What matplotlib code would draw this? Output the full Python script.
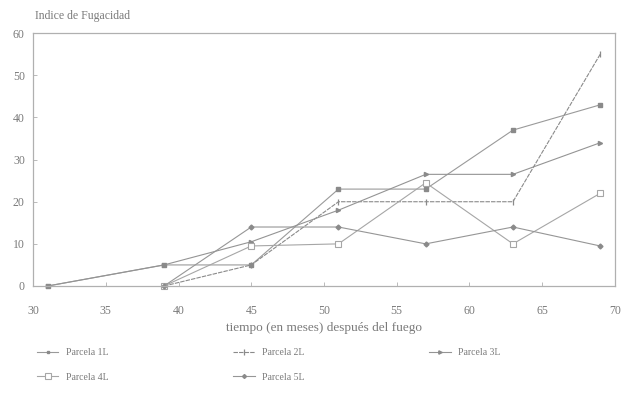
import matplotlib
matplotlib.use("Agg")
import matplotlib.pyplot as plt

# Months after the fire at which each plot was sampled
meses_1L = [31, 39, 45, 51, 57, 63, 69]
indice_1L = [0, 5, 5, 23, 23, 37, 43]

meses_2L = [39, 45, 51, 57, 63, 69]
indice_2L = [0, 5, 20, 20, 20, 55]

meses_3L = [31, 39, 45, 51, 57, 63, 69]
indice_3L = [0, 5, 10.5, 18, 26.5, 26.5, 34]

meses_4L = [39, 45, 51, 57, 63, 69]
indice_4L = [0, 9.5, 10, 24.5, 10, 22]

meses_5L = [39, 45, 51, 57, 63, 69]
indice_5L = [0, 14, 14, 10, 14, 9.5]

x_ticks = [30, 35, 40, 45, 50, 55, 60, 65, 70]
y_ticks = [0, 10, 20, 30, 40, 50, 60]

serif = ["Liberation Serif", "DejaVu Serif"]
txt = "#7a7a7a"

fig = plt.figure(figsize=(6.26, 4.0), dpi=100)
ax = fig.add_axes([0.053, 0.285, 0.929, 0.632])

series = [
    ("Parcela 1L", meses_1L, indice_1L, dict(color="#9a9a9a", marker="s", ms=2.5, mfc="#8a8a8a", mec="#8a8a8a")),
    ("Parcela 2L", meses_2L, indice_2L, dict(color="#8a8a8a", marker="|", ms=5, mew=0.9, ls=(0, (4, 1)))),
    ("Parcela 3L", meses_3L, indice_3L, dict(color="#949494", marker=">", ms=3, mfc="#8a8a8a", mec="#8a8a8a")),
    ("Parcela 4L", meses_4L, indice_4L, dict(color="#a6a6a6", marker="s", ms=5, mfc="white", mew=0.8)),
    ("Parcela 5L", meses_5L, indice_5L, dict(color="#969696", marker="D", ms=2.5, mfc="#8a8a8a", mec="#8a8a8a")),
]

handles = {}
for name, xs, ys, style in series:
    (h,) = ax.plot(xs, ys, lw=0.8, label=name, clip_on=False, **style)
    handles[name] = h

ax.set_xlim(30, 70)
ax.set_ylim(0, 60)
ax.set_xticks(x_ticks)
ax.set_yticks(y_ticks)
ax.set_xticklabels([str(v) for v in x_ticks], family=serif, color=txt, fontsize=8.5)
ax.set_yticklabels([str(v) for v in y_ticks], family=serif, color=txt, fontsize=8.5)
ax.tick_params(axis="both", direction="in", length=3, width=0.6, colors="#b0b0b0",
               labelcolor=txt)
ax.tick_params(axis="x", pad=14)
ax.tick_params(axis="y", pad=6)
for side in ["left", "bottom", "top", "right"]:
    ax.spines[side].set_color("#b0b0b0")
    ax.spines[side].set_linewidth(0.9)

fig.text(0.056, 0.945, "Indice de Fugacidad", family=serif, color=txt, fontsize=8.5,
         ha="left", va="bottom")
ax.set_xlabel("tiempo (en meses) después del fuego", family=serif, color=txt,
              fontsize=9.5, labelpad=3)

order = ["Parcela 1L", "Parcela 4L", "Parcela 2L", "Parcela 5L", "Parcela 3L"]
leg = fig.legend([handles[n] for n in order], order, ncol=3, loc="center left",
                 bbox_to_anchor=(0.045, 0.0875), frameon=False,
                 prop={"family": serif, "size": 7}, handlelength=2.2,
                 columnspacing=12.8, labelspacing=1.55, handletextpad=0.8,
                 markerscale=0.8)
for t in leg.get_texts():
    t.set_color(txt)

fig.savefig("out.png", dpi=100, facecolor="white")
